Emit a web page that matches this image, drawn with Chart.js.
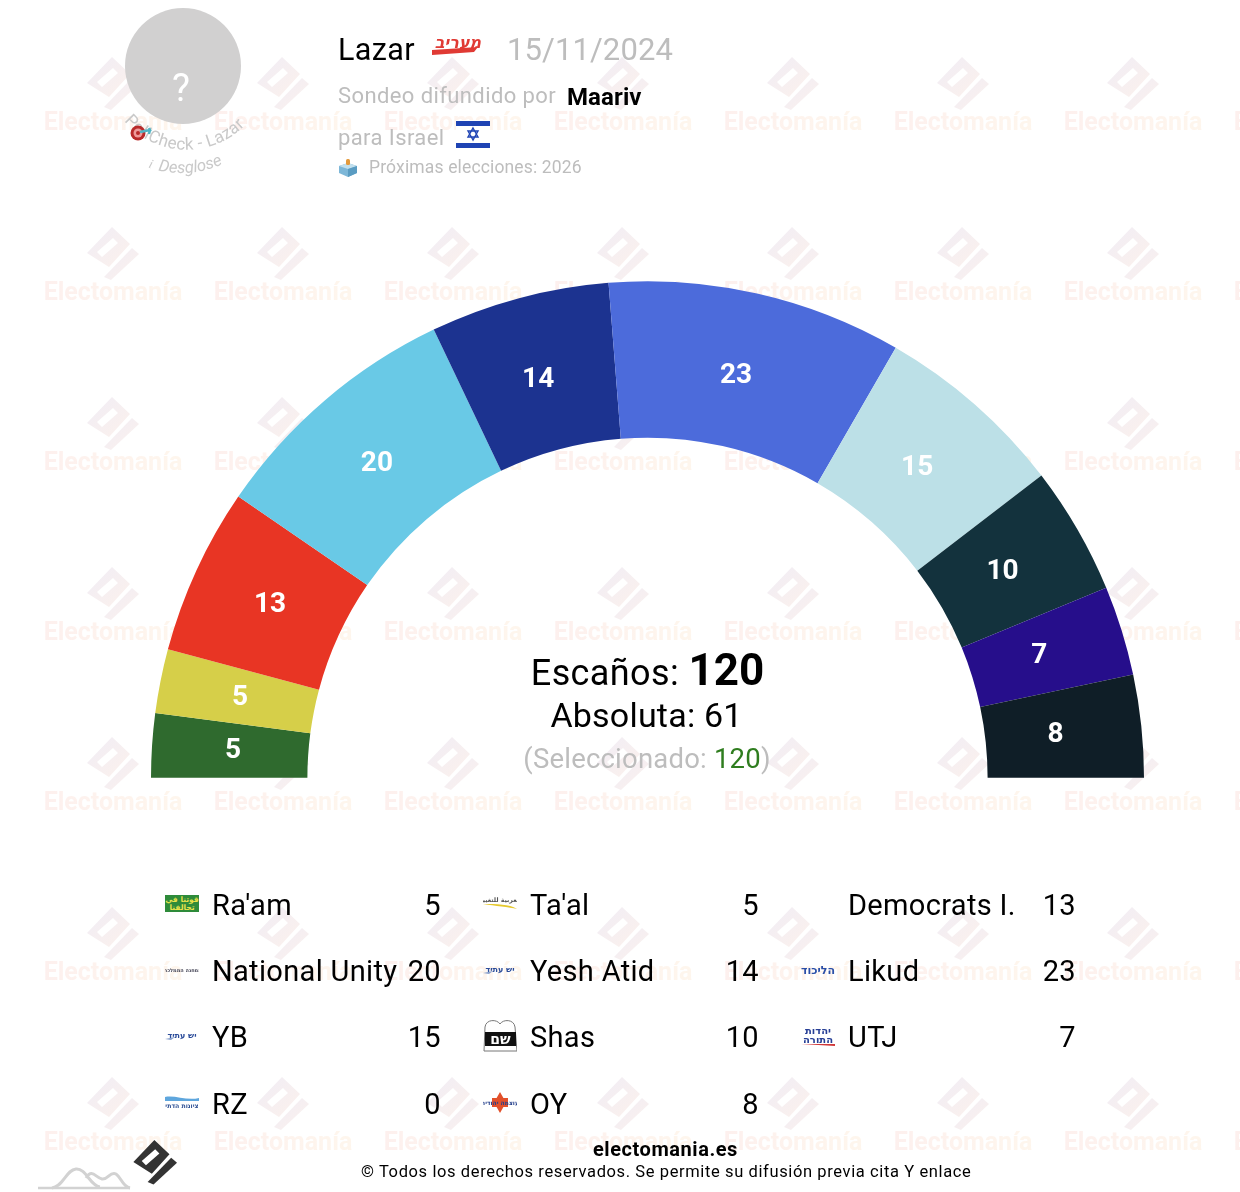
<!DOCTYPE html>
<html lang="es">
<head>
<meta charset="utf-8">
<title>Lazar - Maariv 15/11/2024</title>
<script src="https://cdn.jsdelivr.net/npm/chart.js@4/dist/chart.umd.min.js"></script>
<style>
  html, body { margin: 0; padding: 0; background: #fff; }
  body { position: relative; width: 1240px; height: 1192px; overflow: hidden; font-family: Roboto, sans-serif; color: #000; }
  #marca, #grafico, .t, .logo, .icono { position: absolute; }
  #marca { left: 0; top: 0; z-index: 0; }
  #grafico { left: 0; top: 0; z-index: 1; }
  .t { z-index: 2; white-space: nowrap; line-height: 1; }
  .logo, .icono { z-index: 2; }
  .gris { color: #bdbdbd; }
  .leg { font-size: 29px; letter-spacing: 0.33px; }
  .centro { left: 648px; transform: translateX(-50%); }
  .logo text { font-family: "DejaVu Sans", sans-serif; font-weight: 700; text-anchor: middle; }
</style>
</head>
<body>

<svg id="marca" width="1240" height="1192" xmlns="http://www.w3.org/2000/svg">
  <defs>
    <linearGradient id="gLogo" x1="0" y1="0" x2="1" y2="1">
      <stop offset="0" stop-color="#f0edf6"/>
      <stop offset="1" stop-color="#fcf1ec"/>
    </linearGradient>
    <linearGradient id="gTexto" x1="0" y1="0" x2="1" y2="0">
      <stop offset="0" stop-color="#fdf0ee"/>
      <stop offset="1" stop-color="#fef6ed"/>
    </linearGradient>
    <pattern id="losas" x="28" y="45" width="170" height="170" patternUnits="userSpaceOnUse">
      <path fill="url(#gLogo)" fill-rule="evenodd" d="M84 12 L102 29 L81 52 L59 38 Z M69 37 L85 23 L90 28 L74 42 Z"/>
      <path fill="url(#gLogo)" d="M76 62 L104 33 L111 39 L83 65 Z"/>
      <text x="85" y="85" text-anchor="middle" font-family="Roboto" font-weight="700" font-size="25" fill="url(#gTexto)">Electomanía</text>
    </pattern>
  </defs>
  <rect x="28" y="45" width="1212" height="1147" fill="url(#losas)"/>
</svg>

<canvas id="grafico" width="1240" height="1192"></canvas>

<!-- cabecera -->
<svg class="icono" style="left:120px;top:0" width="140" height="190" xmlns="http://www.w3.org/2000/svg">
  <circle cx="63" cy="66" r="58" fill="#d1d0d0"/>
  <text x="61" y="101" text-anchor="middle" font-family="Roboto" font-size="38" fill="#fff">?</text>
  <path id="arco1" fill="none" d="M 1 117 A 82 82 0 0 0 128 122"/>
  <text font-family="Roboto" font-size="17" letter-spacing=".3" fill="#c9c9c9"><textPath href="#arco1" startOffset="5">PollCheck - Lazar</textPath></text>
  <path id="arco2" fill="none" d="M 27 167 A 100 100 0 0 0 103 164"/>
  <text font-family="Roboto" font-size="16.5" font-style="italic" fill="#c9c9c9"><textPath href="#arco2" startOffset="1"><tspan font-family="Liberation Serif" font-size="13">i</tspan><tspan dx="7">Desglose</tspan></textPath></text>
  <circle cx="18" cy="133" r="7.5" fill="#b92a2a"/>
  <circle cx="18" cy="133" r="4.5" fill="#ef9a9a"/>
  <circle cx="18" cy="133" r="2" fill="#b92a2a"/>
  <path d="M20 132 L30 130 L29 128 M30 130 L29 134" stroke="#4fb4c4" stroke-width="2.5" fill="none"/>
</svg>

<div class="t" style="left:338px;top:35px;font-size:30.5px;letter-spacing:.4px">Lazar</div>
<svg class="icono" style="left:432px;top:35px" width="50" height="22" xmlns="http://www.w3.org/2000/svg">
  <text x="26" y="13" text-anchor="middle" font-family="DejaVu Sans" font-weight="700" font-style="italic" font-size="16" fill="#e03a34">מעריב</text>
  <path d="M0 15 L46 12 L42 17 L0 20 Z" fill="#e03a34"/>
</svg>
<div class="t gris" style="left:507px;top:34px;font-size:31px;letter-spacing:.1px">15/11/2024</div>
<div class="t gris" style="left:338px;top:85px;font-size:22px;letter-spacing:.4px">Sondeo difundido por</div>
<div class="t" style="left:567px;top:85px;font-size:24px;font-weight:700;letter-spacing:.1px">Maariv</div>
<div class="t gris" style="left:338px;top:127px;font-size:22px;letter-spacing:.4px">para Israel</div>
<svg class="icono" style="left:456px;top:120px" width="34" height="29" xmlns="http://www.w3.org/2000/svg">
  <rect width="34" height="29" fill="#fff"/>
  <rect y="1" width="34" height="5" fill="#1f44b4"/>
  <rect y="23" width="34" height="5" fill="#1f44b4"/>
  <path d="M17 8 L22 17 H12 Z M17 20 L12 11 H22 Z" fill="none" stroke="#1f44b4" stroke-width="1.4"/>
</svg>
<svg class="icono" style="left:338px;top:157px" width="20" height="20" xmlns="http://www.w3.org/2000/svg">
  <path d="M10 6 L19 9 V16 L10 20 L1 16 V9 Z" fill="#7db7d8"/>
  <path d="M10 6 L19 9 L10 12 L1 9 Z" fill="#c2e0ee"/>
  <path d="M10 12 L19 9 V16 L10 20 Z" fill="#5a9cc2"/>
  <rect x="8" y="2" width="4" height="6" rx="1.5" fill="#e49a3b"/>
</svg>
<div class="t gris" style="left:369px;top:159px;font-size:17.5px;letter-spacing:.15px">Próximas elecciones: 2026</div>

<!-- centro del hemiciclo -->
<div class="t centro" style="top:648px;left:647.5px;font-size:36px;letter-spacing:.4px">Escaños: <b style="font-size:44px;letter-spacing:0">120</b></div>
<div class="t centro" style="top:698px;left:646.5px;font-size:34px;letter-spacing:.2px">Absoluta: 61</div>
<div class="t centro gris" style="top:745px;font-size:27.5px;letter-spacing:.2px;left:647px">(Seleccionado: <span style="color:#2f7d1f">120</span>)</div>

<!-- pie -->
<div class="t" style="left:593px;top:1139px;font-size:20px;font-weight:700;letter-spacing:.55px">electomania.es</div>
<div class="t" style="left:361px;top:1164px;font-size:16.5px;letter-spacing:.61px">© Todos los derechos reservados. Se permite su difusión previa cita Y enlace</div>
<svg class="icono" style="left:36px;top:1140px" width="145" height="52" xmlns="http://www.w3.org/2000/svg">
  <path d="M2 48 H94" stroke="#d2d2d2" stroke-width="2.5" fill="none"/>
  <path d="M16 48 C28 46 30 30 40 29 C50 28 54 46 64 47 M50 38 C56 28 60 38 66 39 C72 40 74 31 80 34 C86 38 86 46 94 48" stroke="#d2d2d2" stroke-width="3" fill="none"/>
  <g transform="translate(-11,11) scale(.84) translate(70,-25)">
    <path fill="#333" fill-rule="evenodd" d="M84 12 L102 29 L81 52 L59 38 Z M69 37 L85 23 L90 28 L74 42 Z"/>
    <path fill="#333" d="M76 62 L104 33 L111 39 L83 65 Z"/>
  </g>
</svg>

<script>
// datos del sondeo
const etiquetas = ["Ra'am", "Ta'al", "Democrats I.", "National Unity", "Yesh Atid", "Likud", "YB", "Shas", "UTJ", "RZ", "OY"];
const escanos = [5, 5, 13, 20, 14, 23, 15, 10, 7, 0, 8];
const colores = ['#2f6a2e', '#d6cf49', '#e83524', '#69c9e6', '#1c3390', '#4c6bdb', '#bce0e7', '#13323d', '#260e8b', '#888888', '#0f1e27'];

// pinta los escanos encima de cada sector
const valoresPlugin = {
  id: 'valores',
  afterDatasetsDraw(chart) {
    const ctx = chart.ctx;
    const datos = chart.data.datasets[0].data;
    ctx.save();
    ctx.fillStyle = '#fff';
    ctx.font = '700 28px Roboto';
    ctx.textAlign = 'center';
    ctx.textBaseline = 'middle';
    chart.getDatasetMeta(0).data.forEach(function (arco, i) {
      if (!datos[i]) return;
      const p = arco.getProps(['x', 'y', 'startAngle', 'endAngle', 'innerRadius', 'outerRadius']);
      const ang = (p.startAngle + p.endAngle) / 2;
      const r = (p.innerRadius + p.outerRadius) / 2 - 5.5;
      ctx.fillText(datos[i], p.x + Math.cos(ang) * r - 2.5, p.y + Math.sin(ang) * r + 0.5);
    });
    ctx.restore();
  }
};

new Chart(document.getElementById('grafico'), {
  type: 'doughnut',
  data: {
    labels: etiquetas,
    datasets: [{
      data: escanos,
      backgroundColor: colores,
      borderWidth: 0
    }]
  },
  options: {
    responsive: false,
    animation: false,
    rotation: -90,
    circumference: 180,
    cutout: '68.5%',
    layout: { padding: { left: 151, right: 96, top: 281, bottom: 414 } },
    plugins: { legend: { display: false }, tooltip: { enabled: false } }
  },
  plugins: [valoresPlugin]
});

// logos pequenos de los partidos, dibujados a mano
function letrero(txt, color, y, size) {
  return '<text x="17" y="' + y + '" font-size="' + size + '" fill="' + color + '">' + txt + '</text>';
}
const logos = {
  "Ra'am": '<rect y="1" width="34" height="17" fill="#2e8b3a"/>' + letrero('قوتنا في', '#e8e24a', 8, 7.5) + letrero('تحالفنا', '#e8e24a', 16, 7.5),
  "Ta'al": letrero('العربية للتغيير', '#555', 7, 6.2) + '<path d="M0 9 C14 9 26 9 34 14 C26 12 12 11 0 9 Z" fill="#e6c92e"/>',
  "National Unity": '<text x="17" y="11" font-size="5" fill="#445">המחנה הממלכתי</text>',
  "Yesh Atid": letrero('יש עתיד', '#2b4c9a', 11, 8) + '<path d="M0 12 L10 10 L6 13 Z" fill="#88a0cc"/>',
  "YB": letrero('יש עתיד', '#2b4c9a', 11, 8) + '<path d="M0 12 L10 10 L6 13 Z" fill="#88a0cc"/>',
  "Likud": letrero('הליכוד', '#2a4fa8', 13, 11),
  "Shas": '<path d="M1 33 L2 9 C3 1 14 1 17 6 C20 1 31 1 32 9 L34 33 Z" fill="#fff" stroke="#777"/><rect x="2" y="14" width="31" height="14" fill="#111"/><text x="17.5" y="26" font-size="14" fill="#fff">שם</text>',
  "UTJ": letrero('יהדות', '#273f96', 9, 10) + letrero('התורה', '#273f96', 18, 10) + '<path d="M0 19 H34 V21 Z" fill="#d0393a"/>',
  "RZ": '<path d="M0 3 C10 1 22 7 34 4 V7 H0 Z" fill="#5ea6dd"/>' + letrero('הציונות הדתית', '#2d4f93', 14, 6.2),
  "OY": '<path d="M17 0 L21 7 H13 Z M17 21 L21 14 H13 Z" fill="#e2502a"/><rect x="9" y="6" width="16" height="9" fill="#e2502a"/>' + letrero('עוצמה יהודית', '#25408c', 13, 6)
};
const alturas = { "Shas": 36, "UTJ": 22, "OY": 22, "Ra'am": 20 };

// leyenda en tres columnas
const filasY = [905, 971, 1037, 1104];
const nombreX = [212, 530, 848];
const numeroX = [441, 759, 1076];
const logoX = [165, 483, 801];

etiquetas.forEach(function (nombre, i) {
  const col = i % 3, y = filasY[Math.floor(i / 3)];
  const n = document.createElement('div');
  n.className = 't leg';
  n.style.left = nombreX[col] + 'px';
  n.style.top = (y - 14) + 'px';
  n.textContent = nombre;
  document.body.appendChild(n);
  const v = document.createElement('div');
  v.className = 't leg';
  v.style.right = (1240 - numeroX[col]) + 'px';
  v.style.top = (y - 14) + 'px';
  v.textContent = escanos[i];
  document.body.appendChild(v);
  if (logos[nombre]) {
    const h = alturas[nombre] || 18;
    const holder = document.createElement('div');
    holder.innerHTML = '<svg class="logo" xmlns="http://www.w3.org/2000/svg" width="34" height="' + h + '" style="left:' + logoX[col] + 'px;top:' + (y - h / 2 - 1) + 'px">' + logos[nombre] + '</svg>';
    document.body.appendChild(holder.firstChild);
  }
});
</script>
</body>
</html>
